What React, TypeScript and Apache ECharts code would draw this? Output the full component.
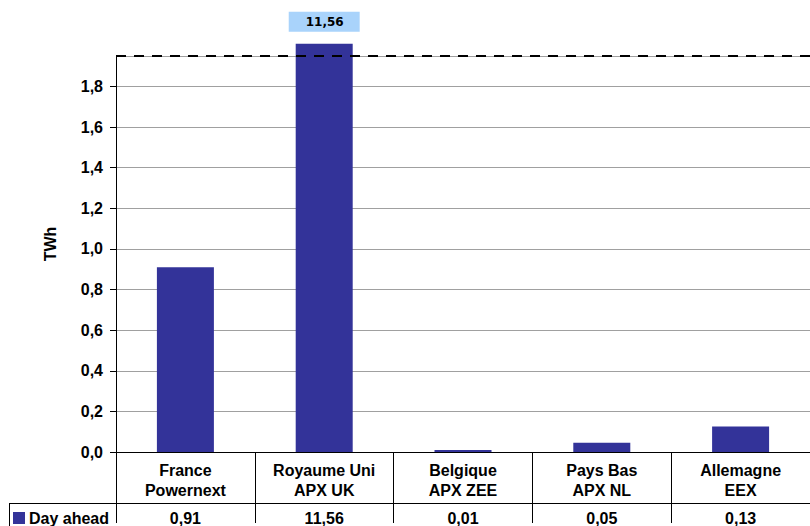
import React, { useEffect, useRef } from "react";
import * as echarts from "echarts";

const categories = ["France\nPowernext", "Royaume Uni\nAPX UK", "Belgique\nAPX ZEE", "Pays Bas\nAPX NL", "Allemagne\nEEX"];
const dayAhead = [0.91, 11.56, 0.01, 0.045, 0.125];
const tableLabels = ["0,91", "11,56", "0,01", "0,05", "0,13"];
const seriesName = "Day ahead";
const axisMax = 1.95; // axis break
const barCap = 2.01; // drawn height of the broken bar

const FONT = "'Liberation Sans', Arial, sans-serif";

export default function App() {
  const ref = useRef<HTMLDivElement>(null);
  useEffect(() => {
    const chart = echarts.init(ref.current!, null, { renderer: "svg" });
    const data = dayAhead.map((v, i) => {
      const item: any = { value: Math.min(v, barCap) };
      if (v > axisMax) {
        item.label = {
          show: true,
          position: "top",
          distance: 12,
          formatter: tableLabels[i],
          fontFamily: "'DejaVu Sans', Verdana, sans-serif",
          fontWeight: "bold",
          fontSize: 12,
          color: "#000",
          backgroundColor: "#a9d3fb",
          padding: [4, 16, 4, 17],
          lineHeight: 12,
        };
      }
      return item;
    });
    chart.setOption({
      animation: false,
      grid: { left: 116, right: 0, top: 56, bottom: 71, containLabel: false },
      legend: {
        data: [{ name: seriesName, icon: "rect" }],
        left: 13,
        top: 510,
        itemWidth: 12,
        itemHeight: 12,
        itemGap: 4,
        padding: 0,
        textStyle: { fontFamily: FONT, fontWeight: "bold", fontSize: 16, lineHeight: 16, color: "#000", padding: [0, 0, 0, -1] },
      },
      xAxis: [
        {
          type: "category",
          data: categories,
          axisLine: { lineStyle: { color: "#000", width: 1 } },
          axisTick: { show: true, length: 71, lineStyle: { color: "#000" } },
          axisLabel: {
            margin: 8,
            fontFamily: FONT,
            fontWeight: "bold",
            fontSize: 16,
            lineHeight: 20,
            color: "#000",
            interval: 0,
          },
        },
        {
          type: "category",
          data: tableLabels,
          position: "bottom",
          axisLine: { show: false },
          axisTick: { show: false },
          axisLabel: {
            margin: 58,
            fontFamily: FONT,
            fontWeight: "bold",
            fontSize: 16,
            lineHeight: 16,
            color: "#000",
            interval: 0,
          },
        },
      ],
      yAxis: {
        type: "value",
        min: 0,
        max: axisMax,
        interval: 0.2,
        name: "TWh",
        nameLocation: "middle",
        nameGap: 58,
        nameTextStyle: { fontFamily: FONT, fontWeight: "bold", fontSize: 16, color: "#000", padding: [0, 0, 0, 20] },
        axisLine: { show: true, lineStyle: { color: "#000", width: 1 } },
        axisTick: { show: true, length: 6, lineStyle: { color: "#000" } },
        axisLabel: {
          margin: 13,
          showMaxLabel: false,
          fontFamily: FONT,
          fontWeight: "bold",
          fontSize: 16,
          color: "#000",
          formatter: (v: number) => (Math.abs(v - axisMax) < 1e-9 ? "" : v.toFixed(1).replace(".", ",")),
        },
        splitLine: { show: true, lineStyle: { color: "#a0a0a0", width: 1 } },
      },
      series: [
        {
          name: seriesName,
          type: "bar",
          data,
          barWidth: 57,
          clip: false,
          itemStyle: { color: "#333399" },
          markLine: {
            silent: true,
            symbol: "none",
            label: { show: false },
            lineStyle: { color: "#000", type: [10, 8], width: 2 },
            data: [{ yAxis: axisMax }],
          },
        },
      ],
      graphic: [
        { type: "line", shape: { x1: 9, y1: 503.5, x2: 810, y2: 503.5 }, style: { stroke: "#000", lineWidth: 1 } },
        { type: "line", shape: { x1: 9.5, y1: 503, x2: 9.5, y2: 526 }, style: { stroke: "#000", lineWidth: 1 } },
      ],
    });
    return () => chart.dispose();
  }, []);
  return <div ref={ref} style={{ position: "absolute", left: 0, top: 0, width: 810, height: 526 }} />;
}
